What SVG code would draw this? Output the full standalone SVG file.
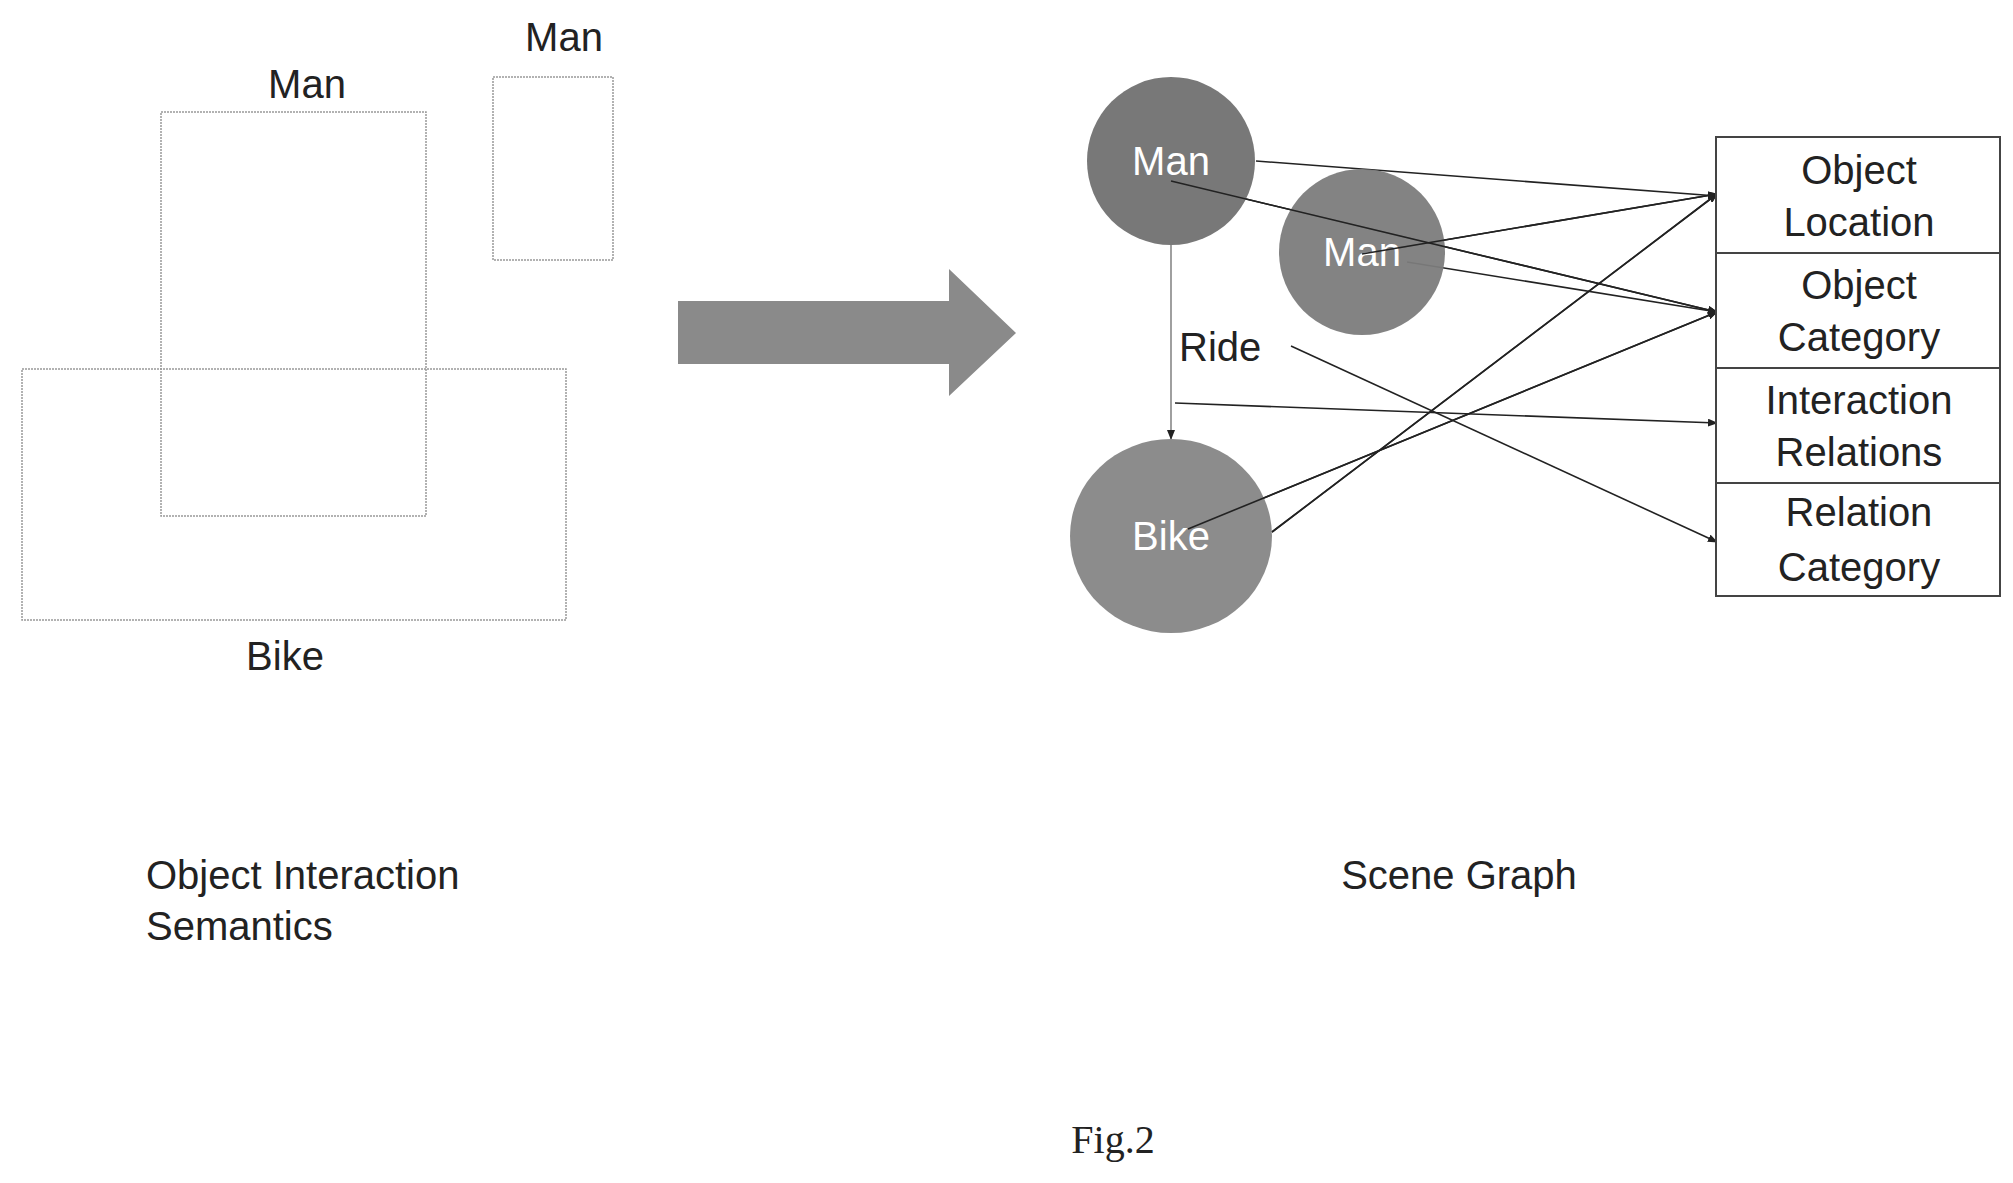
<svg xmlns="http://www.w3.org/2000/svg" width="2013" height="1183" viewBox="0 0 2013 1183">
<style>
text{font-family:"Liberation Sans",Arial,sans-serif;font-size:40px;fill:#222}
.w{fill:#fff;text-anchor:middle}
.m{text-anchor:middle}
.bx{fill:#fff;stroke:#444;stroke-width:2}
.lb{fill:none;stroke:#999;stroke-width:1.5;stroke-dasharray:2 1}
.e{stroke:#222;stroke-width:1.6;fill:none;marker-end:url(#a)}
</style>
<defs><marker id="a" markerWidth="10" markerHeight="8" refX="9" refY="4" orient="auto" markerUnits="userSpaceOnUse" viewBox="0 0 10 8"><path d="M0,0L10,4L0,8z" fill="#222"/></marker></defs>
<g id="left">
<rect class="lb" x="161" y="112" width="265" height="404"/>
<rect class="lb" x="493" y="77" width="120" height="183"/>
<rect class="lb" x="22" y="369" width="544" height="251"/>
<text x="307" y="98" class="m">Man</text>
<text x="564" y="51" class="m">Man</text>
<text x="285" y="670" class="m">Bike</text>
<text x="146" y="889">Object Interaction</text>
<text x="146" y="940">Semantics</text>
</g>
<g id="bigarrow"><path d="M678,301H949V269L1016,333L949,396V364H678z" fill="#8a8a8a"/></g>
<g id="connectors">
<line class="e" x1="1171" y1="245" x2="1171" y2="439" style="stroke:#888"/>
<line class="e" x1="1175" y1="403" x2="1717" y2="423"/>
<line class="e" x1="1291" y1="346" x2="1717" y2="542"/>
<line class="e" x1="1256" y1="161" x2="1717" y2="196"/>
<line class="e" x1="1171" y1="181" x2="1717" y2="312"/>
<line class="e" x1="1362" y1="254" x2="1717" y2="194"/>
<line class="e" x1="1407" y1="262" x2="1717" y2="312"/>
<line class="e" x1="1188" y1="529" x2="1717" y2="312"/>
<line class="e" x1="1272" y1="532" x2="1717" y2="194"/>
</g>
<g id="n-man1"><circle cx="1171" cy="161" r="84" fill="#787878"/><text x="1171" y="175" class="w">Man</text></g>
<g id="n-man2"><circle cx="1362" cy="252" r="83" fill="#7c7c7c" fill-opacity="0.95"/><text x="1362" y="266" class="w">Man</text></g>
<g id="n-bike"><ellipse cx="1171" cy="536" rx="101" ry="97" fill="#8c8c8c"/><text x="1171" y="550" class="w">Bike</text></g>
<g id="edge-redraw">
<line class="e" x1="1171" y1="181" x2="1717" y2="312"/>
<line class="e" x1="1188" y1="529" x2="1717" y2="312"/>
<line class="e" x1="1272" y1="532" x2="1717" y2="194"/>
<line class="e" x1="1362" y1="254" x2="1717" y2="194"/>
</g>
<text x="1179" y="361">Ride</text>
<g id="b1"><rect class="bx" x="1716" y="137" width="284" height="116"/><text x="1859" y="184" class="m">Object</text><text x="1859" y="236" class="m">Location</text></g>
<g id="b2"><rect class="bx" x="1716" y="253" width="284" height="115"/><text x="1859" y="299" class="m">Object</text><text x="1859" y="351" class="m">Category</text></g>
<g id="b3"><rect class="bx" x="1716" y="368" width="284" height="115"/><text x="1859" y="414" class="m">Interaction</text><text x="1859" y="466" class="m">Relations</text></g>
<g id="b4"><rect class="bx" x="1716" y="483" width="284" height="113"/><text x="1859" y="526" class="m">Relation</text><text x="1859" y="581" class="m">Category</text></g>
<text x="1459" y="889" class="m">Scene Graph</text>
<text x="1113" y="1153" class="m" style="font-family:'Liberation Serif',serif">Fig.2</text>
</svg>
